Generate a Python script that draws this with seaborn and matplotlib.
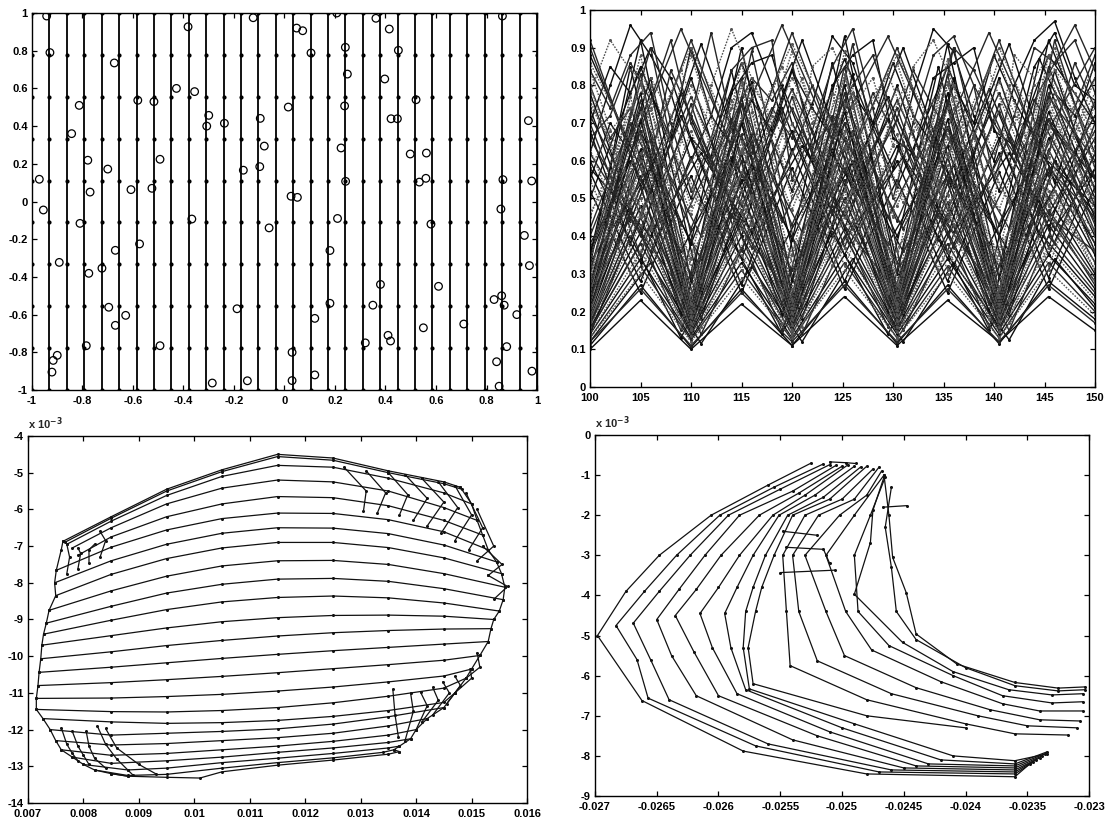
import matplotlib
matplotlib.use("Agg")
import matplotlib.pyplot as plt
import seaborn as sns
import pandas as pd

sns.set_theme(style="white")
plt.rcParams.update({
    "axes.edgecolor": "black", "axes.linewidth": 1.0,
    "xtick.direction": "in", "ytick.direction": "in",
    "xtick.top": True, "ytick.right": True,
    "xtick.bottom": True, "ytick.left": True,
    "font.size": 8, "font.weight": "bold",
})
plt.rcParams["font.family"] = ["Liberation Sans", "DejaVu Sans"]

# ---------------- panel 1 (top-left): grid lines + circles ----------------
TL_GRID_X = [-1, -0.931, -0.862, -0.793, -0.724, -0.655, -0.586, -0.517, -0.448, -0.379,
             -0.310, -0.241, -0.172, -0.103, -0.034, 0.034, 0.103, 0.172, 0.241, 0.310,
             0.379, 0.448, 0.517, 0.586, 0.655, 0.724, 0.793, 0.862, 0.931, 1]
TL_GRID_Y = [-1, -0.778, -0.556, -0.333, -0.111, 0.111, 0.333, 0.556, 0.778, 1]
TL_X = [-0.942, -0.929, -0.971, -0.955, -0.843, -0.813, -0.779, -0.770, -0.674, -0.700,
        -0.608, -0.581, -0.517, -0.525, -0.493, -0.428, -0.382, -0.356, -0.300, -0.308,
        -0.238, -0.163, -0.124, -0.096, -0.080, -0.098,
        0.207, 0.362, 0.048, 0.072, 0.415, 0.105, 0.241, 0.451, 0.249, 0.397,
        0.015, 0.238, 0.521, 0.422, 0.447, 0.966, 0.224, 0.498, 0.562, 0.242,
        0.534, 0.560, 0.865, 0.979, 0.026, 0.051, 0.863, 0.857,
        -0.810, -0.367, -0.061, -0.892, -0.574, -0.670, -0.775, -0.723, -0.696, -0.629,
        -0.670, -0.188, -0.785, -0.493, -0.900, -0.916, -0.921, -0.286, -0.147,
        0.12, 0.12, 0.03, 0.03, 0.18, 0.18, 0.21, 0.32, 0.35, 0.38, 0.41, 0.42, 0.55,
        0.58, 0.61, 0.71, 0.83, 0.84, 0.85, 0.86, 0.87, 0.88, 0.92, 0.95, 0.97, 0.98]
TL_Y = [0.984, 0.79, 0.118, -0.045, 0.36, 0.51, 0.219, 0.05, 0.735, 0.172,
        0.063, 0.537, 0.53, 0.07, 0.224, 0.60, 0.927, 0.583, 0.457, 0.40,
        0.415, 0.166, 0.975, 0.441, 0.294, 0.185,
        1.0, 0.972, 0.92, 0.906, 0.915, 0.788, 0.818, 0.802, 0.676, 0.650,
        0.501, 0.507, 0.54, 0.439, 0.439, 0.429, 0.284, 0.252, 0.257, 0.107,
        0.103, 0.123, 0.116, 0.109, 0.028, 0.022, 0.984, -0.04,
        -0.116, -0.093, -0.14, -0.323, -0.225, -0.259, -0.381, -0.354, -0.561, -0.604,
        -0.657, -0.569, -0.765, -0.765, -0.816, -0.843, -0.905, -0.963, -0.951,
        -0.62, -0.92, -0.80, -0.95, -0.26, -0.54, -0.09, -0.75, -0.55, -0.44, -0.71, -0.74, -0.67,
        -0.12, -0.45, -0.65, -0.52, -0.85, -0.98, -0.50, -0.55, -0.77, -0.60, -0.18, -0.34, -0.90]
TL_TICKS = [-1, -0.8, -0.6, -0.4, -0.2, 0, 0.2, 0.4, 0.6, 0.8, 1]
TL_LABELS = ["-1", "-0.8", "-0.6", "-0.4", "-0.2", "0", "0.2", "0.4", "0.6", "0.8", "1"]

# ---------------- panel 2 (top-right): oscillating traces ----------------
TR_VX = [100, 105, 110, 115, 120, 125.2, 130.4, 135.4, 140.5, 145.4, 150]
TR_A = [
    [0.10, 0.23, 0.10, 0.22, 0.11, 0.24, 0.11, 0.23, 0.12, 0.24, 0.15],
    [0.12, 0.26, 0.11, 0.25, 0.12, 0.27, 0.12, 0.26, 0.12, 0.27, 0.17],
    [0.13, 0.30, 0.12, 0.29, 0.13, 0.31, 0.13, 0.30, 0.13, 0.31, 0.19],
    [0.14, 0.34, 0.13, 0.33, 0.13, 0.35, 0.14, 0.34, 0.14, 0.35, 0.22],
    [0.15, 0.38, 0.14, 0.37, 0.14, 0.40, 0.15, 0.38, 0.15, 0.40, 0.25],
    [0.16, 0.43, 0.15, 0.42, 0.15, 0.45, 0.16, 0.44, 0.16, 0.45, 0.28],
    [0.17, 0.48, 0.15, 0.47, 0.16, 0.50, 0.17, 0.49, 0.17, 0.50, 0.30],
    [0.18, 0.53, 0.16, 0.52, 0.17, 0.55, 0.18, 0.54, 0.18, 0.55, 0.33],
    [0.20, 0.58, 0.17, 0.57, 0.18, 0.60, 0.19, 0.59, 0.19, 0.61, 0.36],
    [0.21, 0.63, 0.18, 0.62, 0.19, 0.66, 0.20, 0.64, 0.20, 0.66, 0.40],
    [0.23, 0.68, 0.19, 0.67, 0.20, 0.70, 0.21, 0.69, 0.21, 0.71, 0.43],
    [0.25, 0.73, 0.20, 0.72, 0.21, 0.75, 0.22, 0.74, 0.22, 0.76, 0.47],
    [0.27, 0.78, 0.21, 0.77, 0.22, 0.80, 0.24, 0.78, 0.23, 0.80, 0.50],
    [0.30, 0.83, 0.23, 0.82, 0.24, 0.85, 0.25, 0.83, 0.25, 0.85, 0.55],
    [0.33, 0.88, 0.25, 0.86, 0.26, 0.89, 0.27, 0.87, 0.26, 0.88, 0.58],
    [0.35, 0.92, 0.28, 0.90, 0.28, 0.93, 0.30, 0.91, 0.29, 0.92, 0.62],
    [0.28, 0.55, 0.30, 0.57, 0.31, 0.58, 0.33, 0.56, 0.32, 0.58, 0.45],
    [0.32, 0.62, 0.34, 0.63, 0.35, 0.64, 0.36, 0.62, 0.35, 0.65, 0.50],
    [0.36, 0.68, 0.38, 0.70, 0.39, 0.70, 0.40, 0.69, 0.40, 0.71, 0.55],
    [0.40, 0.74, 0.42, 0.75, 0.43, 0.76, 0.44, 0.75, 0.43, 0.77, 0.60],
    [0.45, 0.80, 0.46, 0.81, 0.47, 0.82, 0.48, 0.80, 0.47, 0.83, 0.65],
    [0.50, 0.85, 0.50, 0.86, 0.52, 0.87, 0.53, 0.85, 0.52, 0.88, 0.70],
    [0.90, 0.55, 0.92, 0.56, 0.94, 0.57, 0.90, 0.55, 0.92, 0.56, 0.88],
    [0.84, 0.45, 0.88, 0.46, 0.89, 0.47, 0.86, 0.45, 0.87, 0.48, 0.82],
    [0.78, 0.40, 0.82, 0.40, 0.84, 0.42, 0.80, 0.40, 0.82, 0.42, 0.76],
    [0.70, 0.35, 0.75, 0.36, 0.77, 0.37, 0.74, 0.36, 0.75, 0.37, 0.70],
    [0.63, 0.30, 0.68, 0.31, 0.70, 0.32, 0.67, 0.31, 0.68, 0.32, 0.64],
    [0.57, 0.28, 0.61, 0.27, 0.63, 0.28, 0.60, 0.28, 0.62, 0.29, 0.58],
    [0.66, 0.42, 0.72, 0.44, 0.74, 0.45, 0.71, 0.44, 0.73, 0.46, 0.68],
    [0.75, 0.50, 0.80, 0.52, 0.82, 0.53, 0.79, 0.51, 0.81, 0.54, 0.76],
    [0.11, 0.27, 0.105, 0.26, 0.11, 0.28, 0.115, 0.27, 0.115, 0.28, 0.18],
    [0.13, 0.32, 0.125, 0.31, 0.125, 0.33, 0.13, 0.32, 0.13, 0.33, 0.20],
    [0.14, 0.36, 0.135, 0.35, 0.14, 0.37, 0.145, 0.36, 0.145, 0.37, 0.23],
    [0.155, 0.41, 0.145, 0.40, 0.15, 0.42, 0.155, 0.41, 0.155, 0.43, 0.26],
    [0.165, 0.45, 0.15, 0.44, 0.155, 0.47, 0.165, 0.46, 0.165, 0.47, 0.29],
    [0.175, 0.50, 0.155, 0.49, 0.165, 0.52, 0.175, 0.51, 0.175, 0.52, 0.31],
    [0.19, 0.56, 0.165, 0.55, 0.175, 0.58, 0.185, 0.56, 0.185, 0.58, 0.35],
    [0.205, 0.61, 0.175, 0.60, 0.185, 0.63, 0.195, 0.61, 0.195, 0.63, 0.38],
    [0.22, 0.66, 0.185, 0.65, 0.195, 0.68, 0.205, 0.66, 0.205, 0.69, 0.41],
    [0.24, 0.71, 0.195, 0.70, 0.205, 0.73, 0.215, 0.71, 0.215, 0.73, 0.45],
    [0.26, 0.76, 0.205, 0.75, 0.215, 0.78, 0.23, 0.76, 0.225, 0.78, 0.48],
    [0.29, 0.81, 0.22, 0.80, 0.23, 0.83, 0.245, 0.81, 0.24, 0.83, 0.52],
    [0.60, 0.33, 0.66, 0.34, 0.68, 0.35, 0.64, 0.34, 0.66, 0.35, 0.62],
    [0.72, 0.46, 0.77, 0.48, 0.79, 0.49, 0.76, 0.47, 0.78, 0.50, 0.72],
    [0.86, 0.60, 0.90, 0.62, 0.91, 0.63, 0.88, 0.61, 0.90, 0.62, 0.85],
    [0.52, 0.25, 0.56, 0.25, 0.58, 0.26, 0.55, 0.25, 0.57, 0.26, 0.53],
]
TR_VX2 = [100, 104, 109, 114, 119, 124, 129.5, 134.5, 139.5, 144.5, 150]
TR_A2 = [
    [0.14, 0.40, 0.13, 0.39, 0.14, 0.41, 0.14, 0.40, 0.15, 0.41, 0.24],
    [0.16, 0.47, 0.15, 0.46, 0.15, 0.48, 0.16, 0.47, 0.16, 0.48, 0.28],
    [0.19, 0.55, 0.17, 0.54, 0.17, 0.56, 0.18, 0.55, 0.18, 0.56, 0.33],
    [0.22, 0.62, 0.19, 0.61, 0.19, 0.63, 0.20, 0.62, 0.20, 0.63, 0.38],
    [0.25, 0.70, 0.21, 0.69, 0.22, 0.71, 0.22, 0.70, 0.22, 0.72, 0.44],
    [0.28, 0.77, 0.24, 0.76, 0.24, 0.78, 0.25, 0.77, 0.25, 0.79, 0.49],
    [0.32, 0.85, 0.27, 0.84, 0.27, 0.86, 0.28, 0.85, 0.28, 0.87, 0.55],
    [0.24, 0.45, 0.26, 0.46, 0.27, 0.47, 0.28, 0.46, 0.28, 0.47, 0.36],
    [0.30, 0.52, 0.31, 0.53, 0.32, 0.54, 0.33, 0.53, 0.33, 0.54, 0.42],
    [0.35, 0.60, 0.36, 0.61, 0.37, 0.62, 0.38, 0.61, 0.38, 0.62, 0.48],
    [0.42, 0.70, 0.43, 0.71, 0.44, 0.72, 0.45, 0.71, 0.45, 0.72, 0.56],
    [0.80, 0.48, 0.84, 0.50, 0.85, 0.51, 0.83, 0.49, 0.84, 0.50, 0.78],
    [0.68, 0.38, 0.72, 0.39, 0.74, 0.40, 0.71, 0.39, 0.72, 0.40, 0.66],
    [0.92, 0.62, 0.95, 0.64, 0.96, 0.65, 0.93, 0.63, 0.94, 0.64, 0.90],
    [0.55, 0.30, 0.60, 0.31, 0.62, 0.32, 0.59, 0.31, 0.60, 0.32, 0.55],
    [0.74, 0.44, 0.78, 0.45, 0.80, 0.46, 0.77, 0.45, 0.79, 0.46, 0.72],
]
TR_VX3 = [100, 106, 111, 116, 121, 126, 131, 136, 141.5, 146, 150]
TR_A3 = [
    [0.12, 0.33, 0.115, 0.32, 0.12, 0.34, 0.12, 0.33, 0.125, 0.34, 0.21],
    [0.15, 0.43, 0.14, 0.42, 0.14, 0.44, 0.15, 0.43, 0.15, 0.44, 0.27],
    [0.18, 0.51, 0.16, 0.50, 0.16, 0.52, 0.17, 0.51, 0.17, 0.52, 0.31],
    [0.21, 0.59, 0.18, 0.58, 0.18, 0.60, 0.19, 0.59, 0.19, 0.60, 0.36],
    [0.24, 0.66, 0.20, 0.65, 0.21, 0.67, 0.21, 0.66, 0.21, 0.68, 0.41],
    [0.27, 0.74, 0.22, 0.73, 0.23, 0.75, 0.23, 0.74, 0.23, 0.76, 0.46],
    [0.31, 0.82, 0.25, 0.81, 0.26, 0.83, 0.26, 0.82, 0.26, 0.84, 0.52],
    [0.34, 0.90, 0.28, 0.89, 0.29, 0.91, 0.29, 0.90, 0.29, 0.92, 0.58],
    [0.26, 0.50, 0.28, 0.51, 0.29, 0.52, 0.30, 0.51, 0.30, 0.52, 0.40],
    [0.33, 0.58, 0.34, 0.59, 0.35, 0.60, 0.36, 0.59, 0.36, 0.60, 0.46],
    [0.38, 0.66, 0.40, 0.67, 0.41, 0.68, 0.42, 0.67, 0.42, 0.68, 0.53],
    [0.46, 0.76, 0.47, 0.77, 0.48, 0.78, 0.49, 0.77, 0.49, 0.78, 0.62],
    [0.88, 0.52, 0.91, 0.54, 0.92, 0.55, 0.90, 0.53, 0.91, 0.54, 0.86],
    [0.62, 0.36, 0.66, 0.37, 0.68, 0.38, 0.65, 0.37, 0.66, 0.38, 0.62],
    [0.76, 0.42, 0.80, 0.43, 0.82, 0.44, 0.79, 0.43, 0.80, 0.44, 0.75],
    [0.58, 0.40, 0.62, 0.41, 0.64, 0.42, 0.61, 0.41, 0.62, 0.42, 0.58],
]
TR_BX = [100, 102, 104, 106, 108, 110, 112, 114, 116, 118, 120, 122, 124,
         126, 128, 130, 132, 134, 136, 138, 140, 142, 144, 146, 148, 150]
TR_B = [
    [0.62, 0.80, 0.96, 0.88, 0.78, 0.60, 0.72, 0.90, 0.94, 0.80, 0.62, 0.75, 0.93,
     0.86, 0.70, 0.58, 0.78, 0.95, 0.89, 0.72, 0.60, 0.80, 0.92, 0.97, 0.82, 0.70],
    [0.84, 0.74, 0.88, 0.94, 0.70, 0.52, 0.66, 0.84, 0.90, 0.92, 0.55, 0.68, 0.85,
     0.95, 0.74, 0.50, 0.70, 0.88, 0.93, 0.80, 0.55, 0.72, 0.90, 0.86, 0.92, 0.78],
    [0.78, 0.92, 0.84, 0.80, 0.65, 0.48, 0.80, 0.95, 0.82, 0.70, 0.50, 0.85, 0.90,
     0.78, 0.62, 0.45, 0.85, 0.92, 0.80, 0.66, 0.48, 0.88, 0.82, 0.90, 0.74, 0.62],
    [0.70, 0.85, 0.78, 0.90, 0.82, 0.66, 0.60, 0.78, 0.86, 0.88, 0.70, 0.60, 0.80,
     0.88, 0.92, 0.66, 0.62, 0.82, 0.86, 0.90, 0.68, 0.64, 0.85, 0.94, 0.80, 0.76],
    [0.66, 0.72, 0.86, 0.76, 0.92, 0.70, 0.58, 0.70, 0.82, 0.76, 0.86, 0.64, 0.70,
     0.80, 0.88, 0.72, 0.58, 0.74, 0.90, 0.84, 0.72, 0.60, 0.76, 0.86, 0.96, 0.84],
    [0.58, 0.68, 0.74, 0.82, 0.72, 0.60, 0.66, 0.74, 0.80, 0.72, 0.62, 0.70, 0.78,
     0.74, 0.82, 0.64, 0.68, 0.76, 0.80, 0.74, 0.62, 0.70, 0.80, 0.84, 0.78, 0.66],
    [0.55, 0.70, 0.62, 0.78, 0.66, 0.90, 0.72, 0.64, 0.76, 0.68, 0.84, 0.74, 0.66,
     0.78, 0.70, 0.86, 0.72, 0.64, 0.80, 0.70, 0.88, 0.76, 0.66, 0.78, 0.72, 0.82],
    [0.80, 0.66, 0.74, 0.60, 0.84, 0.72, 0.94, 0.70, 0.62, 0.74, 0.66, 0.80, 0.70,
     0.62, 0.78, 0.68, 0.84, 0.74, 0.66, 0.80, 0.70, 0.62, 0.76, 0.68, 0.86, 0.74],
]
TR_XTICKS = [100, 105, 110, 115, 120, 125, 130, 135, 140, 145, 150]
TR_XLABELS = ["100", "105", "110", "115", "120", "125", "130", "135", "140", "145", "150"]
TR_YTICKS = [0, 0.1, 0.2, 0.3, 0.4, 0.5, 0.6, 0.7, 0.8, 0.9, 1]
TR_YLABELS = ["0", "0.1", "0.2", "0.3", "0.4", "0.5", "0.6", "0.7", "0.8", "0.9", "1"]

# ---------------- panel 3 (bottom-left): oval mesh (y in units of 1e-3) ----------------
BL_ROWS_X = [
    [0.00763, 0.0085, 0.0095, 0.0105, 0.0115, 0.0125, 0.0135, 0.0145, 0.0148],
    [0.00766, 0.0085, 0.0095, 0.0105, 0.0115, 0.0125, 0.0135, 0.0145, 0.01482],
    [0.0077, 0.0085, 0.0095, 0.0105, 0.0115, 0.0125, 0.0135, 0.0145, 0.0150],
    [0.0078, 0.0085, 0.0095, 0.0105, 0.0115, 0.0125, 0.0135, 0.0145, 0.0151],
    [0.0079, 0.0085, 0.0095, 0.0105, 0.0115, 0.0125, 0.0135, 0.0145, 0.0152],
    [0.00751, 0.0085, 0.0095, 0.0105, 0.0115, 0.0125, 0.0135, 0.0145, 0.0153],
    [0.00748, 0.0085, 0.0095, 0.0105, 0.0115, 0.0125, 0.0135, 0.0145, 0.01545],
    [0.0075, 0.0085, 0.0095, 0.0105, 0.0115, 0.0125, 0.0135, 0.0145, 0.01554],
    [0.00738, 0.0085, 0.0095, 0.0105, 0.0115, 0.0125, 0.0135, 0.0145, 0.0156],
    [0.00733, 0.0085, 0.0095, 0.0105, 0.0115, 0.0125, 0.0135, 0.0145, 0.01557],
    [0.00728, 0.0085, 0.0095, 0.0105, 0.0115, 0.0125, 0.0135, 0.0145, 0.0155],
    [0.00725, 0.0085, 0.0095, 0.0105, 0.0115, 0.0125, 0.0135, 0.0145, 0.0154],
    [0.00723, 0.0085, 0.0095, 0.0105, 0.0115, 0.0125, 0.0135, 0.0145, 0.01535],
    [0.0072, 0.0085, 0.0095, 0.0105, 0.0115, 0.0125, 0.0135, 0.0145, 0.0153],
    [0.00718, 0.0085, 0.0095, 0.0105, 0.0115, 0.0125, 0.0135, 0.0145, 0.01515],
    [0.00715, 0.0085, 0.0095, 0.0105, 0.0115, 0.0125, 0.0135, 0.0145, 0.0150],
    [0.00715, 0.0085, 0.0095, 0.0105, 0.0115, 0.0125, 0.0135, 0.0145, 0.0149],
    [0.00727, 0.0085, 0.0095, 0.0105, 0.0115, 0.0125, 0.0135, 0.0145, 0.0147],
    [0.0074, 0.0085, 0.0095, 0.0105, 0.0115, 0.0125, 0.0135, 0.0145],
    [0.0075, 0.0085, 0.0095, 0.0105, 0.0115, 0.0125, 0.0135, 0.0142],
    [0.0076, 0.0085, 0.0095, 0.0105, 0.0115, 0.0125, 0.0135, 0.0140],
    [0.0078, 0.0085, 0.0095, 0.0105, 0.0115, 0.0125, 0.0135, 0.0139],
    [0.0080, 0.0088, 0.0095, 0.0105, 0.0115, 0.0125, 0.0135, 0.0137],
    [0.0082, 0.0088, 0.0095, 0.0105, 0.0115, 0.0125, 0.0134, 0.0136],
    [0.0085, 0.0088, 0.0095, 0.0101, 0.0105, 0.0115, 0.0125, 0.0135, 0.0137],
]
BL_ROWS_Y = [
    [-6.87, -6.2, -5.45, -4.92, -4.5, -4.6, -4.95, -5.25, -5.4],
    [-6.9, -6.24, -5.5, -4.97, -4.56, -4.66, -5.0, -5.3, -5.45],
    [-6.95, -6.32, -5.62, -5.1, -4.8, -4.85, -5.15, -5.55, -5.85],
    [-7.05, -6.5, -5.85, -5.42, -5.2, -5.25, -5.5, -5.95, -6.3],
    [-7.25, -6.75, -6.2, -5.85, -5.65, -5.68, -5.9, -6.3, -6.7],
    [-7.66, -7.03, -6.56, -6.25, -6.10, -6.11, -6.28, -6.61, -7.10],
    [-8.0, -7.40, -6.95, -6.65, -6.50, -6.51, -6.66, -6.97, -7.43],
    [-8.35, -7.77, -7.34, -7.05, -6.90, -6.90, -7.04, -7.32, -7.75],
    [-8.75, -8.22, -7.82, -7.54, -7.40, -7.39, -7.50, -7.75, -8.12],
    [-9.1, -8.64, -8.28, -8.04, -7.90, -7.88, -7.96, -8.16, -8.46],
    [-9.4, -9.02, -8.73, -8.52, -8.40, -8.36, -8.41, -8.55, -8.77],
    [-9.7, -9.44, -9.23, -9.06, -8.95, -8.89, -8.88, -8.91, -9.00],
    [-10.07, -9.88, -9.71, -9.57, -9.45, -9.36, -9.30, -9.26, -9.25],
    [-10.44, -10.30, -10.18, -10.06, -9.95, -9.85, -9.76, -9.67, -9.60],
    [-10.8, -10.72, -10.64, -10.55, -10.45, -10.34, -10.23, -10.11, -9.98],
    [-11.15, -11.14, -11.10, -11.04, -10.95, -10.84, -10.70, -10.54, -10.35],
    [-11.45, -11.51, -11.52, -11.48, -11.40, -11.27, -11.09, -10.87, -10.60],
    [-11.7, -11.79, -11.83, -11.81, -11.75, -11.64, -11.48, -11.26, -11.0],
    [-12.0, -12.15, -12.1, -12.05, -11.98, -11.85, -11.65, -11.4],
    [-12.3, -12.42, -12.38, -12.3, -12.22, -12.1, -11.9, -11.7],
    [-12.55, -12.7, -12.65, -12.55, -12.45, -12.32, -12.15, -12.0],
    [-12.75, -12.92, -12.85, -12.75, -12.62, -12.5, -12.35, -12.25],
    [-12.95, -13.1, -13.05, -12.9, -12.78, -12.65, -12.5, -12.45],
    [-13.1, -13.25, -13.22, -13.05, -12.9, -12.77, -12.62, -12.55],
    [-13.2, -13.27, -13.3, -13.32, -13.15, -12.97, -12.83, -12.67, -12.6],
]
BL_COLS_X = [
    [0.00763, 0.0076, 0.00751, 0.00748, 0.0075, 0.00738, 0.00733, 0.00728, 0.00725,
     0.00723, 0.0072, 0.00718, 0.00715, 0.00715, 0.00727, 0.0074, 0.0075, 0.0076,
     0.0078, 0.0080, 0.0082, 0.0085, 0.0088],
    [0.0148, 0.0150, 0.0151, 0.0152, 0.0153, 0.01545, 0.01554, 0.0156, 0.01557, 0.0155,
     0.0154, 0.01535, 0.0153, 0.01515, 0.0150, 0.0149, 0.0147, 0.0145, 0.0142, 0.0140,
     0.0139, 0.0137, 0.0136, 0.0137],
    [0.0077, 0.00775, 0.0077], [0.0079, 0.00795, 0.0079], [0.0081, 0.0081, 0.0082],
    [0.0083, 0.0084, 0.0083],
    [0.0076, 0.0077, 0.0078, 0.0079], [0.0078, 0.0079, 0.0080, 0.0081],
    [0.00805, 0.0081, 0.0082, 0.0084], [0.00825, 0.0084, 0.0086, 0.0088, 0.0089],
    [0.0084, 0.0086, 0.0090, 0.0093],
    [0.01358, 0.01362, 0.01368], [0.0139, 0.01395, 0.0138], [0.01408, 0.0142, 0.0140],
    [0.0143, 0.0144, 0.0141], [0.01448, 0.0146, 0.0143], [0.0147, 0.0148, 0.01455],
    [0.01498, 0.0150, 0.0147], [0.0151, 0.01515, 0.0149],
    [0.0127, 0.0131, 0.01305], [0.0131, 0.01345, 0.0133], [0.0135, 0.01385, 0.0137],
    [0.0138, 0.0142, 0.01395], [0.0141, 0.0145, 0.0142], [0.0144, 0.01475, 0.01445],
    [0.0147, 0.0150, 0.0147], [0.0149, 0.0152, 0.01495], [0.0151, 0.0154, 0.0151],
    [0.0152, 0.01555, 0.0153], [0.0153, 0.01565, 0.0154],
]
BL_COLS_Y = [
    [-6.87, -7.1, -7.66, -8.0, -8.35, -8.75, -9.1, -9.4, -9.7, -10.07, -10.44, -10.8,
     -11.15, -11.45, -11.7, -12.0, -12.3, -12.55, -12.75, -12.95, -13.1, -13.2, -13.27],
    [-5.4, -5.85, -6.3, -6.7, -7.1, -7.43, -7.75, -8.12, -8.46, -8.77, -9.0, -9.25, -9.6,
     -9.98, -10.35, -10.6, -11.0, -11.4, -11.7, -12.0, -12.25, -12.45, -12.55, -12.6],
    [-7.75, -7.3, -6.95], [-7.62, -7.2, -7.05], [-7.45, -7.1, -6.95], [-7.3, -6.85, -6.6],
    [-11.95, -12.4, -12.65, -12.85], [-12.05, -12.45, -12.7, -12.95],
    [-12.05, -12.45, -12.78, -13.05], [-11.9, -12.4, -12.8, -13.1, -13.25],
    [-11.97, -12.5, -12.95, -13.2],
    [-10.9, -11.6, -12.2], [-11.0, -11.5, -12.3], [-10.98, -11.35, -12.0],
    [-10.85, -11.2, -11.8], [-10.7, -11.0, -11.6], [-10.55, -10.8, -11.3],
    [-10.35, -10.6, -11.0], [-9.9, -10.3, -10.6],
    [-4.85, -5.5, -6.05], [-4.95, -5.55, -6.1], [-5.0, -5.6, -6.15], [-5.05, -5.7, -6.3],
    [-5.15, -5.8, -6.45], [-5.25, -5.95, -6.65], [-5.35, -6.15, -6.85], [-5.55, -6.5, -7.1],
    [-6.0, -7.0, -7.4], [-7.0, -7.5, -7.8], [-7.8, -8.1, -8.45],
]
BL_XTICKS = [0.007, 0.008, 0.009, 0.010, 0.011, 0.012, 0.013, 0.014, 0.015, 0.016]
BL_XLABELS = ["0.007", "0.008", "0.009", "0.01", "0.011", "0.012", "0.013", "0.014", "0.015", "0.016"]
BL_YTICKS = [-14, -13, -12, -11, -10, -9, -8, -7, -6, -5, -4]
BL_YLABELS = ["-14", "-13", "-12", "-11", "-10", "-9", "-8", "-7", "-6", "-5", "-4"]

# ---------------- panel 4 (bottom-right): crescent mesh (y in units of 1e-3) ----------------
BR_X = [
    [-0.02525, -0.0256, -0.02606, -0.02648, -0.02675, -0.02698, -0.02662, -0.0258, -0.0248, -0.0236, -0.02348],
    [-0.02515, -0.02555, -0.02599, -0.02634, -0.0266, -0.02683, -0.02666, -0.02657, -0.0257, -0.0247, -0.0236, -0.02345],
    [-0.0251, -0.0255, -0.02592, -0.02623, -0.02648, -0.02669, -0.02655, -0.0264, -0.0256, -0.0246, -0.0236, -0.02343],
    [-0.02505, -0.0254, -0.02583, -0.02611, -0.02632, -0.0265, -0.02638, -0.02618, -0.0254, -0.0245, -0.0236, -0.0234],
    [-0.0250, -0.02535, -0.02567, -0.02598, -0.02618, -0.02635, -0.0262, -0.0260, -0.0252, -0.0244, -0.0236, -0.02338],
    [-0.02495, -0.0253, -0.02556, -0.02583, -0.0260, -0.02615, -0.02605, -0.02585, -0.0251, -0.0243, -0.0236, -0.02336],
    [-0.0249, -0.02522, -0.02551, -0.02572, -0.02585, -0.02595, -0.0259, -0.02578, -0.0250, -0.0242, -0.0236, -0.02334],
    [-0.02485, -0.02515, -0.02544, -0.02562, -0.02572, -0.02578, -0.0258, -0.02575, -0.0249, -0.0241, -0.0236, -0.02334],
    [-0.0248, -0.0251, -0.0254, -0.02555, -0.02565, -0.0257, -0.02576, -0.02572, -0.0248, -0.0240],
    [-0.02475, -0.0250, -0.0253, -0.02548, -0.02545, -0.02542, -0.0248, -0.0240, -0.0236, -0.02317],
    [-0.0247, -0.0249, -0.02519, -0.0254, -0.02535, -0.0252, -0.0246, -0.0239, -0.0235, -0.0231],
    [-0.02468, -0.0248, -0.02502, -0.0253, -0.02513, -0.02498, -0.0244, -0.0238, -0.0234, -0.02307],
    [-0.02466, -0.0249, -0.02513, -0.02497, -0.02476, -0.0242, -0.0237, -0.0234, -0.02305],
    [-0.02465, -0.02477, -0.0249, -0.02487, -0.02462, -0.0241, -0.0237, -0.0233, -0.02305],
    [-0.02466, -0.02475, -0.02477, -0.0249, -0.02451, -0.0241, -0.02365, -0.0233, -0.02305],
    [-0.0246, -0.02465, -0.0246, -0.02456, -0.0244, -0.0240, -0.0236, -0.02325, -0.02303],
    [-0.02466, -0.02462, -0.02459, -0.02448, -0.0244, -0.02407, -0.0236, -0.02325, -0.02303],
    [-0.02548, -0.0252], [-0.02545, -0.02515, -0.0251], [-0.0255, -0.02506],
    [-0.02467, -0.02447], [-0.0251, -0.02497, -0.02489],
]
BR_Y = [
    [-0.70, -1.25, -2.0, -3.0, -3.9, -5.0, -6.62, -7.88, -8.45, -8.52, -8.2],
    [-0.72, -1.3, -2.0, -3.0, -3.9, -4.75, -5.6, -6.56, -7.75, -8.4, -8.45, -8.15],
    [-0.74, -1.35, -2.0, -3.0, -3.9, -4.69, -5.6, -6.6, -7.7, -8.35, -8.4, -8.1],
    [-0.76, -1.4, -2.0, -3.0, -3.85, -4.6, -5.5, -6.5, -7.6, -8.3, -8.35, -8.05],
    [-0.78, -1.45, -2.0, -3.0, -3.85, -4.5, -5.4, -6.5, -7.5, -8.25, -8.3, -8.0],
    [-0.74, -1.5, -2.0, -3.0, -3.8, -4.45, -5.3, -6.45, -7.4, -8.2, -8.25, -7.95],
    [-0.78, -1.5, -2.0, -3.0, -3.8, -4.45, -5.3, -6.35, -7.3, -8.1, -8.2, -7.9],
    [-0.80, -1.55, -2.0, -3.0, -3.8, -4.4, -5.3, -6.33, -7.2, -8.0, -8.12, -7.95],
    [-0.78, -1.6, -2.0, -3.0, -3.8, -4.4, -5.3, -6.2, -7.0, -7.3],
    [-0.85, -1.6, -2.0, -3.0, -4.4, -5.75, -6.6, -7.2, -7.45, -7.48],
    [-0.80, -1.6, -2.0, -3.0, -4.4, -5.63, -6.45, -7.0, -7.25, -7.3],
    [-0.90, -1.5, -2.0, -3.0, -4.4, -5.5, -6.3, -6.85, -7.1, -7.13],
    [-1.0, -2.0, -3.0, -4.4, -5.36, -6.15, -6.7, -6.88, -6.88],
    [-1.05, -2.0, -3.0, -4.4, -5.25, -6.0, -6.5, -6.68, -6.65],
    [-1.05, -1.88, -2.68, -3.97, -5.17, -5.9, -6.35, -6.48, -6.45],
    [-1.3, -2.3, -3.3, -4.4, -5.1, -5.8, -6.25, -6.38, -6.35],
    [-1.0, -2.0, -3.05, -3.93, -4.96, -5.71, -6.17, -6.31, -6.28],
    [-2.4, -2.5], [-2.8, -2.85, -3.2], [-3.43, -3.37],
    [-1.8, -1.76], [-0.67, -0.69, -0.71],
]
BR_XTICKS = [-0.027, -0.0265, -0.026, -0.0255, -0.025, -0.0245, -0.024, -0.0235, -0.023]
BR_XLABELS = ["-0.027", "-0.0265", "-0.026", "-0.0255", "-0.025", "-0.0245", "-0.024", "-0.0235", "-0.023"]
BR_YTICKS = [-9, -8, -7, -6, -5, -4, -3, -2, -1, 0]
BR_YLABELS = ["-9", "-8", "-7", "-6", "-5", "-4", "-3", "-2", "-1", "0"]


def to_long(xs_list, ys_list, prefix):
    recs = []
    for i, (xs, ys) in enumerate(zip(xs_list, ys_list)):
        for j, (x, y) in enumerate(zip(xs, ys)):
            recs.append((f"{prefix}{i}", j, x, y))
    return pd.DataFrame(recs, columns=["line", "order", "x", "y"])


def draw_lines(ax, df, color="black", lw=0.8, ms=2.5, dashes=None):
    n0 = len(ax.lines)
    sns.lineplot(data=df, x="x", y="y", units="line", estimator=None, sort=False,
                 ax=ax, color=color, lw=lw, legend=False)
    for ln in ax.lines[n0:]:
        ln.set_marker("o")
        ln.set_markersize(ms)
        ln.set_markerfacecolor(color)
        ln.set_markeredgewidth(0)
        if dashes is not None:
            ln.set_dashes(dashes)


def style_axes(ax, xlim, ylim, xt, xl, yt, yl):
    ax.set_xlim(*xlim)
    ax.set_ylim(*ylim)
    ax.set_xticks(xt)
    ax.set_xticklabels(xl)
    ax.set_yticks(yt)
    ax.set_yticklabels(yl)
    ax.set_xlabel("")
    ax.set_ylabel("")
    for s in ax.spines.values():
        s.set_color("black")
        s.set_linewidth(1.0)
    ax.tick_params(axis="x", which="both", direction="in", top=True, bottom=True,
                   labelsize=8, length=3.5, width=0.9, colors="black", pad=4)
    ax.tick_params(axis="y", which="both", direction="in", left=True, right=True,
                   labelsize=8, length=3.5, width=0.9, colors="black", pad=3)
    for t in ax.get_xticklabels() + ax.get_yticklabels():
        t.set_fontweight("bold")


fig = plt.figure(figsize=(11.13, 8.17), dpi=100)
fig.patch.set_facecolor("white")
ax1 = fig.add_axes([0.02875, 0.52264, 0.45373, 0.46144])
ax2 = fig.add_axes([0.53010, 0.52632, 0.45373, 0.46144])
ax3 = fig.add_axes([0.02516, 0.01714, 0.44834, 0.44920])
ax4 = fig.add_axes([0.53459, 0.02570, 0.44385, 0.44186])

# panel 1
grid_df = to_long([[gx] * len(TL_GRID_Y) for gx in TL_GRID_X],
                  [TL_GRID_Y] * len(TL_GRID_X), "g")
draw_lines(ax1, grid_df, color="black", lw=1.3, ms=3.0)
sns.scatterplot(x=TL_X, y=TL_Y, ax=ax1, marker="o", s=30, facecolor="none",
                edgecolor="black", linewidth=0.9, legend=False, zorder=3)
style_axes(ax1, (-1, 1), (-1, 1), TL_TICKS, TL_LABELS, TL_TICKS, TL_LABELS)

# panel 2
colors = ["#0d0d0d", "#262626", "#555555"]
dash_sets = [None, None, (1.2, 1.0)]
for k in range(3):
    for vx, sets, tag in ((TR_VX, TR_A, "a"), (TR_VX2, TR_A2, "p"), (TR_VX3, TR_A3, "q"),
                          (TR_BX, TR_B, "b")):
        sel = [r for i, r in enumerate(sets) if i % 3 == k]
        if not sel:
            continue
        df = to_long([vx] * len(sel), sel, f"{tag}{k}_")
        draw_lines(ax2, df, color=colors[k], lw=1.0, ms=2.2, dashes=dash_sets[k])
style_axes(ax2, (100, 150), (0, 1), TR_XTICKS, TR_XLABELS, TR_YTICKS, TR_YLABELS)

# panel 3
draw_lines(ax3, to_long(BL_ROWS_X, BL_ROWS_Y, "r"), color="#111111", lw=0.9, ms=2.2)
draw_lines(ax3, to_long(BL_COLS_X, BL_COLS_Y, "c"), color="#111111", lw=0.9, ms=2.2)
style_axes(ax3, (0.007, 0.016), (-14, -4), BL_XTICKS, BL_XLABELS, BL_YTICKS, BL_YLABELS)
ax3.text(0.0, 1.012, r"x 10$^{-3}$", transform=ax3.transAxes, ha="left", va="bottom",
         fontsize=8, fontweight="bold")

# panel 4
draw_lines(ax4, to_long(BR_X, BR_Y, "k"), color="#111111", lw=0.9, ms=2.2)
style_axes(ax4, (-0.027, -0.023), (-9, 0), BR_XTICKS, BR_XLABELS, BR_YTICKS, BR_YLABELS)
ax4.text(0.0, 1.012, r"x 10$^{-3}$", transform=ax4.transAxes, ha="left", va="bottom",
         fontsize=8, fontweight="bold")

fig.savefig("out.png", dpi=100, facecolor="white")
